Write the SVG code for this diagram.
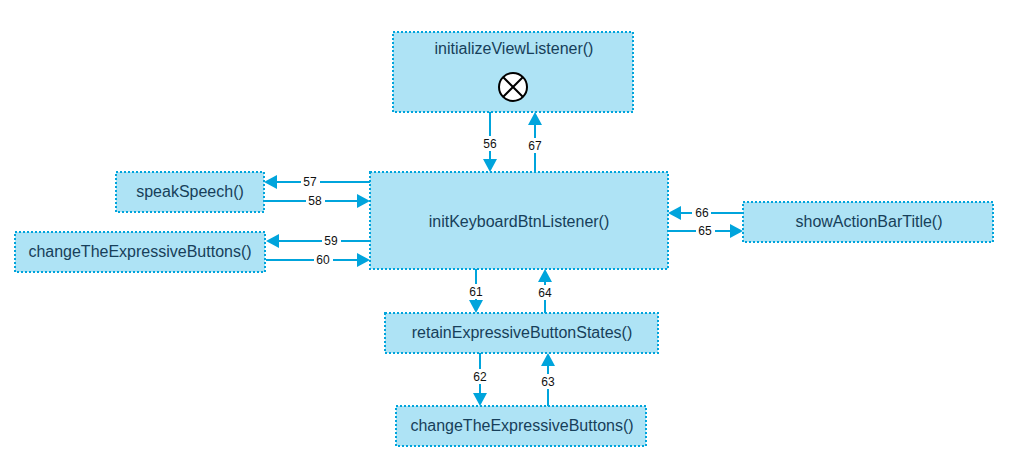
<svg xmlns="http://www.w3.org/2000/svg" width="1019" height="474" viewBox="0 0 1019 474">
<style>
.n{fill:#aee3f5;stroke:#00a4dc;stroke-width:2;stroke-dasharray:2 2}
.t{font-family:"Liberation Sans",Arial,sans-serif;font-size:16px;fill:#173f5a;text-anchor:middle}
.c{stroke:#00a4dc;stroke-width:2;fill:none}
.h{fill:#00a4dc}
.lb{fill:#fff}
.l{font-family:"Liberation Sans",Arial,sans-serif;font-size:12px;fill:#111;text-anchor:middle}
</style>
<rect width="1019" height="474" fill="#fff"/>
<g id="connectors">
<path class="c" d="M490 112V160"/><polygon class="h" points="490,172 483,159 497,159"/><rect class="lb" x="482" y="136" width="16" height="15"/><text class="l" x="490" y="148">56</text>
<path class="c" d="M535 172V124"/><polygon class="h" points="535,112 528,125 542,125"/><rect class="lb" x="527" y="138" width="16" height="15"/><text class="l" x="535" y="150">67</text>
<path class="c" d="M370 182H276"/><polygon class="h" points="264,182 277,175 277,189"/><rect class="lb" x="301" y="174" width="19" height="15"/><text class="l" x="310" y="186">57</text>
<path class="c" d="M264 201H358"/><polygon class="h" points="370,201 357,194 357,208"/><rect class="lb" x="306" y="193" width="19" height="15"/><text class="l" x="315" y="205">58</text>
<path class="c" d="M370 241H278"/><polygon class="h" points="266,241 279,234 279,248"/><rect class="lb" x="322" y="233" width="19" height="15"/><text class="l" x="331" y="245">59</text>
<path class="c" d="M266 260H358"/><polygon class="h" points="370,260 357,253 357,267"/><rect class="lb" x="314" y="252" width="19" height="15"/><text class="l" x="323" y="264">60</text>
<path class="c" d="M476 269V301"/><polygon class="h" points="476,313 469,300 483,300"/><rect class="lb" x="468" y="284" width="16" height="15"/><text class="l" x="476" y="296">61</text>
<path class="c" d="M545 313V281"/><polygon class="h" points="545,269 538,282 552,282"/><rect class="lb" x="537" y="285" width="16" height="15"/><text class="l" x="545" y="297">64</text>
<path class="c" d="M480 353V394"/><polygon class="h" points="480,406 473,393 487,393"/><rect class="lb" x="472" y="369" width="16" height="15"/><text class="l" x="480" y="381">62</text>
<path class="c" d="M548 406V365"/><polygon class="h" points="548,353 541,366 555,366"/><rect class="lb" x="540" y="374" width="16" height="15"/><text class="l" x="548" y="386">63</text>
<path class="c" d="M743 213H680"/><polygon class="h" points="668,213 681,206 681,220"/><rect class="lb" x="692" y="205" width="19" height="15"/><text class="l" x="702" y="217">66</text>
<path class="c" d="M668 231H731"/><polygon class="h" points="743,231 730,224 730,238"/><rect class="lb" x="696" y="223" width="19" height="15"/><text class="l" x="705" y="235">65</text>
</g>
<g id="initializeViewListener"><rect class="n" x="393" y="32" width="240" height="80"/><text class="t" x="514" y="54">initializeViewListener()</text>
<circle cx="513" cy="87" r="14" fill="#fff" stroke="#000" stroke-width="2"/><path d="M503 77L523 97M523 77L503 97" stroke="#000" stroke-width="2" fill="none"/></g>
<g id="initKeyboardBtnListener"><rect class="n" x="370" y="172" width="298" height="97"/><text class="t" x="519" y="227">initKeyboardBtnListener()</text></g>
<g id="speakSpeech"><rect class="n" x="116" y="172" width="148" height="40"/><text class="t" x="190" y="197">speakSpeech()</text></g>
<g id="changeTheExpressiveButtons1"><rect class="n" x="15" y="232" width="250" height="40"/><text class="t" x="140" y="257">changeTheExpressiveButtons()</text></g>
<g id="showActionBarTitle"><rect class="n" x="743" y="202" width="250" height="40"/><text class="t" x="869" y="227">showActionBarTitle()</text></g>
<g id="retainExpressiveButtonStates"><rect class="n" x="385" y="313" width="273" height="40"/><text class="t" x="522" y="338">retainExpressiveButtonStates()</text></g>
<g id="changeTheExpressiveButtons2"><rect class="n" x="396" y="406" width="250" height="40"/><text class="t" x="522" y="431">changeTheExpressiveButtons()</text></g>
</svg>
